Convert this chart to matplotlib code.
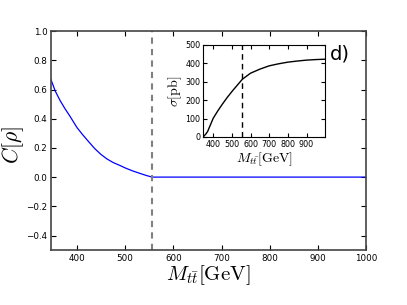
import matplotlib
matplotlib.use("Agg")
import matplotlib.pyplot as plt

# Main panel data: C[rho] vs M_tt
m_main = [346, 355, 365, 375, 385, 400, 412, 425, 437, 450, 462, 475, 489, 500, 515, 531, 545, 556, 600, 700, 800, 900, 1000]
c_main = [0.67, 0.59, 0.525, 0.47, 0.42, 0.34, 0.29, 0.24, 0.195, 0.155, 0.125, 0.10, 0.08, 0.063, 0.043, 0.025, 0.01, 0.0, 0.0, 0.0, 0.0, 0.0, 0.0]
m_cut = 556

# Inset data: sigma vs M_tt
m_inset = [346, 360, 370, 385, 400, 425, 450, 475, 500, 530, 556, 600, 650, 700, 750, 800, 850, 900, 950, 1000]
s_inset = [0, 15, 29, 65, 101, 142, 179, 214, 246, 282, 313, 346, 368, 386, 397, 406, 412, 417, 420, 422]

main_xticks = [400, 500, 600, 700, 800, 900, 1000]
main_yticks = [-0.4, -0.2, 0.0, 0.2, 0.4, 0.6, 0.8, 1.0]
main_yticklabels = ['\u22120.4', '\u22120.2', '0.0', '0.2', '0.4', '0.6', '0.8', '1.0']
inset_xticks = [400, 500, 600, 700, 800, 900]
inset_yticks = [0, 100, 200, 300, 400, 500]

plt.rcParams['mathtext.fontset'] = 'cm'
plt.rcParams['xtick.direction'] = 'in'
plt.rcParams['ytick.direction'] = 'in'
plt.rcParams['xtick.top'] = True
plt.rcParams['ytick.right'] = True
plt.rcParams['xtick.major.size'] = 3.5
plt.rcParams['ytick.major.size'] = 3.5

fig = plt.figure(figsize=(4.07, 3.05), dpi=100)
ax = fig.add_axes([0.125, 0.18, 0.775, 0.718])
ax.plot(m_main, c_main, color='blue', lw=0.9)
ax.axvline(m_cut, color='gray', ls='--', lw=1.5, dashes=(3, 2.5))
ax.set_xlim(346, 1000)
ax.set_ylim(-0.5, 1.0)
ax.set_xticks(main_xticks)
ax.set_yticks(main_yticks)
ax.set_yticklabels(main_yticklabels)
ax.tick_params(labelsize=6.3, pad=2.5)
for s in ax.spines.values():
    s.set_color('#444444')
    s.set_linewidth(1.2)
ax.set_xlabel(r'$M_{t\bar{t}}[\mathrm{GeV}]$', fontsize=15)
ax.set_ylabel(r'$C[\rho]$', fontsize=15.5)
ax.xaxis.set_label_coords(0.5, -0.06)
ax.yaxis.set_label_coords(-0.078, 0.48)

ins = fig.add_axes([0.499, 0.551, 0.30, 0.302])
ins.plot(m_inset, s_inset, color='black', lw=1)
ins.axvline(m_cut, color='black', ls='--', lw=1, dashes=(4, 3))
ins.set_xlim(346, 1000)
ins.set_ylim(0, 500)
ins.set_xticks(inset_xticks)
ins.set_yticks(inset_yticks)
ins.tick_params(labelsize=5.8, length=3, pad=2)
ins.set_xlabel(r'$M_{t\bar{t}}[\mathrm{GeV}]$', fontsize=10, labelpad=1)
ins.set_ylabel(r'$\sigma[\mathrm{pb}]$', fontsize=10, labelpad=1)

fig.text(0.81, 0.823, 'd)', fontsize=14, ha='left', va='center')

fig.savefig('out.png', dpi=100)
